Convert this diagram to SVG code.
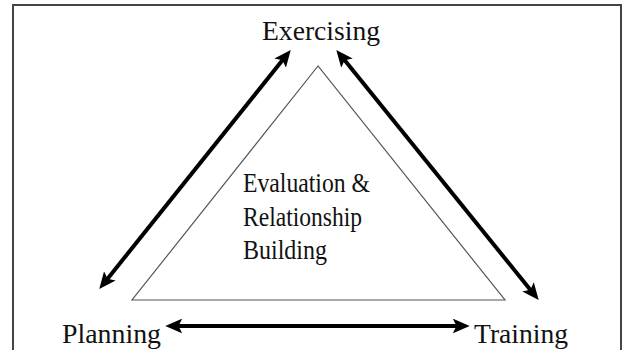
<svg xmlns="http://www.w3.org/2000/svg" width="625" height="350" viewBox="0 0 625 350">
<defs>
<style>
.lbl{font-family:"Liberation Serif","Times New Roman",serif;font-size:28px;fill:#111}
.inner{font-family:"Liberation Serif","Times New Roman",serif;font-size:27px;fill:#111}
.arr{stroke:#000;stroke-width:4;fill:none;marker-start:url(#ah);marker-end:url(#ah)}
</style>
<marker id="ah" markerUnits="userSpaceOnUse" markerWidth="18" markerHeight="15" refX="4" refY="7" orient="auto-start-reverse" viewBox="0 0 17 14">
<path d="M0,0 L16,7 L0,14 L3.5,7 z" fill="#000"/>
</marker>
</defs>
<rect width="625" height="350" fill="#fff"/>
<rect x="13" y="5" width="608" height="360" fill="none" stroke="#444" stroke-width="2"/>
<g id="triangle">
<polygon points="318,66 132,300 505,300" fill="none" stroke="#555" stroke-width="1.2"/>
<text class="inner" x="243" y="192" textLength="127" lengthAdjust="spacingAndGlyphs">Evaluation &amp;</text>
<text class="inner" x="243" y="226" textLength="119" lengthAdjust="spacingAndGlyphs">Relationship</text>
<text class="inner" x="243" y="259" textLength="84" lengthAdjust="spacingAndGlyphs">Building</text>
</g>
<g id="exercising"><text class="lbl" x="321" y="40" text-anchor="middle" textLength="118" lengthAdjust="spacingAndGlyphs">Exercising</text></g>
<g id="planning"><text class="lbl" x="62" y="343" textLength="99" lengthAdjust="spacingAndGlyphs">Planning</text></g>
<g id="training"><text class="lbl" x="474" y="343" textLength="94" lengthAdjust="spacingAndGlyphs">Training</text></g>
<g id="connectors">
<line class="arr" x1="107.2" y1="279.2" x2="282.8" y2="59.8"/>
<line class="arr" x1="344.3" y1="59.8" x2="530.7" y2="290.2"/>
<line class="arr" x1="178" y1="326" x2="457" y2="326"/>
</g>
</svg>
